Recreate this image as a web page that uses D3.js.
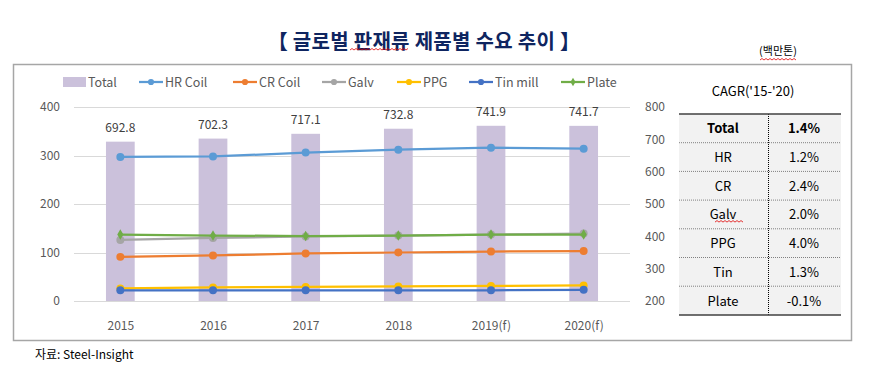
<!DOCTYPE html>
<html>
<head>
<meta charset="utf-8">
<script src="https://cdn.jsdelivr.net/npm/d3@7"></script>
<style>
  body { margin: 0; background: #fff; }
  svg { display: block; font-family: "Noto Sans CJK KR", "Noto Sans", sans-serif; }
</style>
</head>
<body>
<svg id="chart" width="871" height="369"></svg>
<script>
// 연도 / 값
const years = ['2015', '2016', '2017', '2018', '2019(f)', '2020(f)'];
const totalValues = [692.8, 702.3, 717.1, 732.8, 741.9, 741.7];
const hrCoil = [297, 298, 306, 312, 316, 314];
const crCoil = [91, 94, 98, 100, 102, 103];
const galv = [126, 130, 133, 135, 137, 139];
const ppg = [26, 28, 29, 30, 31, 32];
const tinMill = [22, 22, 22, 22, 22, 23];
const plate = [137, 135, 134, 135, 137, 137];
const leftTicks = [0, 100, 200, 300, 400];
const rightTicks = [200, 300, 400, 500, 600, 700, 800];

const cagrNames = ['Total', 'HR', 'CR', 'Galv', 'PPG', 'Tin', 'Plate'];
const cagrValues = ['1.4%', '1.2%', '2.4%', '2.0%', '4.0%', '1.3%', '-0.1%'];

const series = [
    { name: 'HR Coil', values: hrCoil, color: '#5B9BD5', shape: 'circle' },
    { name: 'CR Coil', values: crCoil, color: '#ED7D31', shape: 'circle' },
    { name: 'Galv', values: galv, color: '#A5A5A5', shape: 'circle' },
    { name: 'PPG', values: ppg, color: '#FFC000', shape: 'circle' },
    { name: 'Tin mill', values: tinMill, color: '#4472C4', shape: 'circle' },
    { name: 'Plate', values: plate, color: '#70AD47', shape: 'diamond' }
];

const svg = d3.select('#chart');

// 맞춤법 물결 밑줄 (원본 캡처에 있는 빨간 물결)
function squiggle(x1, x2, y) {
    let d = `M${x1},${y}`;
    for (let xx = x1, up = true; xx < x2; xx += 2, up = !up) {
        d += `L${xx + 2},${y + (up ? -1.5 : 0)}`;
    }
    svg.append('path').attr('d', d).attr('fill', 'none')
        .attr('stroke', '#E00000').attr('stroke-width', 0.8);
}

// 바깥 박스
svg.append('rect')
    .attr('x', 13.5).attr('y', 64.5).attr('width', 838).attr('height', 276)
    .attr('fill', 'none').attr('stroke', '#A6A6A6').attr('stroke-width', 1.5);

// 제목
svg.append('text')
    .attr('x', 424).attr('y', 49)
    .attr('text-anchor', 'middle')
    .attr('fill', '#0F2560')
    .style('font-size', '20px').style('font-weight', 'bold')
    .style('letter-spacing', '0.3px')
    .text('【 글로벌 판재류 제품별 수요 추이 】');
squiggle(350, 408, 50);

svg.append('text')
    .attr('x', 778).attr('y', 55)
    .attr('text-anchor', 'middle')
    .attr('fill', '#000')
    .style('font-size', '11px')
    .text('(백만톤)');
squiggle(760, 795, 60);

// 스케일
const x = d3.scalePoint().domain(years).range([74, 630]).padding(0.5);
const yLeft = d3.scaleLinear().domain([0, 400]).range([301, 107]);
const yRight = d3.scaleLinear().domain([200, 800]).range([301, 107]);
const barWidth = x.step() * 0.31;

// 그리드
svg.append('g').selectAll('line').data(leftTicks).join('line')
    .attr('x1', 74).attr('x2', 630)
    .attr('y1', d => Math.round(yLeft(d)) + 0.5).attr('y2', d => Math.round(yLeft(d)) + 0.5)
    .attr('stroke', '#D9D9D9').attr('stroke-width', 1);

// 축
const axisL = svg.append('g').attr('transform', 'translate(74,0)')
    .call(d3.axisLeft(yLeft).tickValues(leftTicks).tickSize(0).tickPadding(14));
const axisR = svg.append('g').attr('transform', 'translate(630,0)')
    .call(d3.axisRight(yRight).tickValues(rightTicks).tickSize(0).tickPadding(15));
const axisB = svg.append('g').attr('transform', 'translate(0,301)')
    .call(d3.axisBottom(x).tickSize(0).tickPadding(20));
[axisL, axisR, axisB].forEach(a => {
    a.select('.domain').remove();
    a.selectAll('text').attr('fill', '#595959').style('font-size', '12px')
        .style('font-family', '"Noto Sans CJK KR", sans-serif');
});

// 막대 (Total, 오른쪽 축)
svg.append('g').selectAll('rect').data(totalValues).join('rect')
    .attr('x', (d, i) => x(years[i]) - barWidth / 2)
    .attr('y', d => yRight(d))
    .attr('width', barWidth)
    .attr('height', d => yRight(200) - yRight(d))
    .attr('fill', '#CBC1DB');

svg.append('g').selectAll('text').data(totalValues).join('text')
    .attr('x', (d, i) => x(years[i]))
    .attr('y', d => yRight(d) - 10)
    .attr('text-anchor', 'middle')
    .attr('fill', '#404040')
    .style('font-size', '12px')
    .text(d => d.toFixed(1));

// 선
const line = d3.line().x((d, i) => x(years[i])).y(d => yLeft(d));
const marker = (s, small) => d3.symbol()
    .type(s.shape === 'diamond' ? d3.symbolDiamond : d3.symbolCircle)
    .size(s.shape === 'diamond' ? (small ? 22 : 32) : (small ? 30 : 50));
series.forEach(s => {
    const g = svg.append('g');
    g.append('path').datum(s.values)
        .attr('d', line).attr('fill', 'none')
        .attr('stroke', s.color).attr('stroke-width', 2.25);
    g.selectAll('path.m').data(s.values).join('path')
        .attr('class', 'm')
        .attr('d', marker(s, false))
        .attr('transform', (d, i) => `translate(${x(years[i])},${yLeft(d)})`)
        .attr('fill', s.color);
});

// 범례
const legend = svg.append('g').attr('transform', 'translate(0,82)');
legend.append('rect').attr('x', 63).attr('y', -5).attr('width', 23).attr('height', 10).attr('fill', '#CBC1DB');
legend.append('text').attr('x', 88).attr('y', 5).attr('fill', '#595959').style('font-size', '12.5px').text('Total');
const legendX = [139, 233, 322, 397, 469, 561];
series.forEach((s, i) => {
    const lx = legendX[i];
    legend.append('line').attr('x1', lx).attr('x2', lx + 24).attr('y1', 0).attr('y2', 0)
        .attr('stroke', s.color).attr('stroke-width', 2.25);
    legend.append('path')
        .attr('d', marker(s, true))
        .attr('transform', `translate(${lx + 12},0)`).attr('fill', s.color);
    legend.append('text').attr('x', lx + 26).attr('y', 5).attr('fill', '#595959')
        .style('font-size', '12.5px').text(s.name);
});

// CAGR 표
const tLeft = 679, tRight = 841, tMid = 768, tTop = 114, rowH = 28.7;
svg.append('text').attr('x', 753).attr('y', 96).attr('text-anchor', 'middle')
    .attr('fill', '#000').style('font-size', '13px').text("CAGR('15-'20)");

const table = svg.append('g');
table.append('rect').attr('x', tLeft).attr('y', tTop)
    .attr('width', tRight - tLeft).attr('height', rowH * cagrNames.length).attr('fill', '#F2F2F2');
table.selectAll('line.sep').data(d3.range(1, cagrNames.length)).join('line')
    .attr('class', 'sep')
    .attr('x1', tLeft).attr('x2', tRight)
    .attr('y1', i => tTop + i * rowH).attr('y2', i => tTop + i * rowH)
    .attr('stroke', '#808080').attr('stroke-width', 1).attr('stroke-dasharray', '1,1');
table.append('line').attr('x1', tMid + 0.5).attr('x2', tMid + 0.5)
    .attr('y1', tTop).attr('y2', tTop + rowH * cagrNames.length)
    .attr('stroke', '#000').attr('stroke-width', 1).attr('stroke-dasharray', '1,1');
[tTop, tTop + rowH * cagrNames.length].forEach(yy => {
    table.append('line').attr('x1', tLeft).attr('x2', tRight).attr('y1', yy).attr('y2', yy)
        .attr('stroke', '#404040').attr('stroke-width', 1.5);
});
table.selectAll('text.name').data(cagrNames).join('text')
    .attr('class', 'name')
    .attr('x', 723).attr('y', (d, i) => tTop + i * rowH + rowH / 2 + 5)
    .attr('text-anchor', 'middle').attr('fill', '#000')
    .style('font-size', '13px').style('font-weight', (d, i) => i === 0 ? 'bold' : 'normal')
    .text(d => d);
table.selectAll('text.val').data(cagrValues).join('text')
    .attr('class', 'val')
    .attr('x', 804).attr('y', (d, i) => tTop + i * rowH + rowH / 2 + 5)
    .attr('text-anchor', 'middle').attr('fill', '#000')
    .style('font-size', '13px').style('font-weight', (d, i) => i === 0 ? 'bold' : 'normal')
    .text(d => d);
squiggle(715, 742, tTop + 3 * rowH + 22);

// 출처
svg.append('text').attr('x', 35).attr('y', 359).attr('fill', '#000')
    .style('font-size', '12px').text('자료: Steel-Insight');
</script>
</body>
</html>
